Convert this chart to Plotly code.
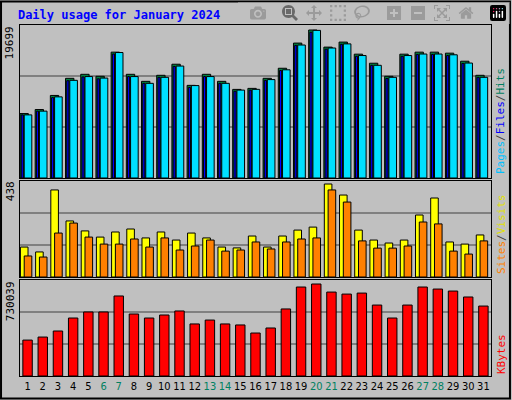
import plotly.graph_objects as go

days = list(range(1, 32))
weekend = [6, 7, 13, 14, 20, 21, 27, 28]
hits = [8577, 9112, 10989, 13267, 13803, 13535, 16751, 13803, 12865, 13669, 15143, 12329, 13803, 12865, 11793, 11927,
        13267, 14607, 17957, 19699, 17421, 18091, 16483, 15277, 13535, 16483, 16751, 16751, 16617, 15545, 13669]
files = [8400, 8900, 10700, 12950, 13450, 13200, 16500, 13500, 12600, 13400, 14850, 12050, 13500, 12600, 11550, 11700,
         13000, 14300, 17650, 19400, 17150, 17800, 16200, 15000, 13250, 16200, 16450, 16450, 16300, 15250, 13400]
pages = [8400, 8900, 10800, 13000, 13500, 13300, 16700, 13500, 12600, 13400, 14900, 12300, 13500, 12600, 11700, 11800,
         13100, 14400, 17700, 19650, 17300, 17850, 16300, 15000, 13400, 16300, 16500, 16500, 16400, 15300, 13400]
sites = [141, 118, 410, 264, 217, 188, 212, 226, 184, 212, 174, 207, 184, 141, 137, 193, 141, 193, 221, 235, 438, 386,
         221, 174, 160, 174, 292, 372, 165, 155, 198]
visits = [99, 94, 207, 254, 188, 155, 155, 179, 141, 184, 127, 146, 174, 122, 127, 165, 132, 165, 179, 184, 410, 353,
          170, 136, 136, 146, 259, 250, 122, 108, 170]
kbytes = [285000, 309000, 357000, 460000, 508000, 508000, 635000, 492000, 460000, 484000, 516000, 413000, 444000,
          413000, 405000, 341000, 381000, 532000, 706000, 730039, 666000, 650000, 658000, 563000, 460000, 563000,
          706000, 690000, 674000, 627000, 555000]

fig = go.Figure()
ln = dict(color="black", width=1)
fig.add_bar(x=days, y=hits, width=0.55, offset=-0.5, marker=dict(color="#008040", line=ln), xaxis="x3", yaxis="y3")
fig.add_bar(x=days, y=files, width=0.14, offset=-0.42, marker=dict(color="#0000ff", line=ln), xaxis="x3", yaxis="y3")
fig.add_bar(x=days, y=pages, width=0.5, offset=-0.22, marker=dict(color="#00e0ff", line=ln), xaxis="x3", yaxis="y3")
fig.add_bar(x=days, y=sites, width=0.5, offset=-0.47, marker=dict(color="#ffff00", line=ln), xaxis="x2", yaxis="y2")
fig.add_bar(x=days, y=visits, width=0.5, offset=-0.22, marker=dict(color="#ff8000", line=ln), xaxis="x2", yaxis="y2")
fig.add_bar(x=days, y=kbytes, width=0.62, offset=-0.31, marker=dict(color="#ff0000", line=ln), xaxis="x", yaxis="y")

def yax(dom, top):
    return dict(domain=dom, range=[0, top], tickvals=[top / 3, 2 * top / 3], showticklabels=False,
                gridcolor="#808080", gridwidth=1.5, zeroline=False, showline=True, linecolor="black",
                mirror=True, fixedrange=True, ticks="")

ticktext = [f'<span style="color:#008060">{d}</span>' if d in weekend else str(d) for d in days]
fig.update_layout(
    width=512, height=400, margin=dict(l=0, r=0, t=0, b=0, pad=0), autosize=False,
    paper_bgcolor="#c0c0c0", plot_bgcolor="#c0c0c0", showlegend=False, barmode="overlay",
    font=dict(family="DejaVu Sans Mono", size=11, color="black"),
    xaxis=dict(domain=[0.039, 0.959], range=[0.5, 31.5], tickvals=days, ticktext=ticktext, showgrid=False,
               tickangle=0, tickfont=dict(size=11, family="DejaVu Sans Condensed"),
               showline=True, linecolor="black", mirror=True, ticks="", anchor="y"),
    xaxis2=dict(domain=[0.039, 0.959], range=[0.5, 31.5], matches="x", showticklabels=False, anchor="y2",
                showline=True, linecolor="black", mirror=True),
    xaxis3=dict(domain=[0.039, 0.959], range=[0.5, 31.5], matches="x", showticklabels=False, anchor="y3",
                showline=True, linecolor="black", mirror=True),
    yaxis=yax([0.06, 0.30], 730039 * 96 / 92),
    yaxis2=yax([0.3075, 0.5475], 438 * 96 / 93),
    yaxis3=yax([0.555, 0.9375], 19699 * 153 / 148),
    title=dict(text="<b>Daily usage for January 2024</b>", x=0.035, xanchor="left", y=0.962, yanchor="middle",
               font=dict(family="DejaVu Sans Mono", size=12, color="#0000ff")),
)

def lab(y, text):
    fig.add_annotation(x=0.036, y=y, xref="paper", yref="paper", text=text, textangle=-90, showarrow=False,
                       xanchor="right", yanchor="top", font=dict(size=11))
lab(0.94, "19699"); lab(0.552, "438"); lab(0.302, "730039")

def rlab(y, text):
    fig.add_annotation(x=0.962, y=y, xref="paper", yref="paper", text=text, textangle=-90, showarrow=False,
                       xanchor="left", yanchor="bottom", font=dict(size=11))
rlab(0.56, '<span style="color:#00c0ff">Pages</span><span style="color:#404040">/</span>'
           '<span style="color:#0000ff">Files</span><span style="color:#404040">/</span>'
           '<span style="color:#008060">Hits</span>')
rlab(0.31, '<span style="color:#ff8000">Sites</span><span style="color:#404040">/</span>'
           '<span style="color:#e0e000">Visits</span>')
rlab(0.06, '<span style="color:#ff0000">KBytes</span>')

fig.add_shape(type="rect", xref="paper", yref="paper", x0=0.002, y0=0.004, x1=0.996, y1=0.996,
              line=dict(color="black", width=2))
fig.write_html("out.html", post_script="document.body.style.margin='0';document.body.style.overflow='hidden';")
